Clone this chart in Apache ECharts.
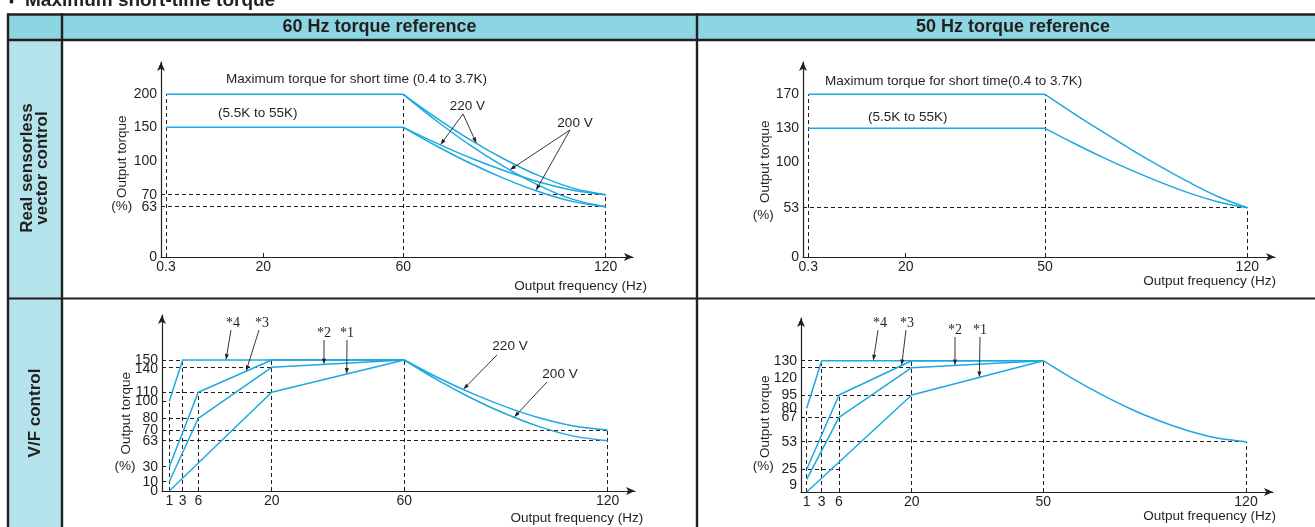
<!DOCTYPE html>
<html>
<head>
<meta charset="utf-8">
<title>Maximum short-time torque</title>
<script src="https://cdn.jsdelivr.net/npm/echarts@6.0.0/dist/echarts.min.js"></script>
<style>
html, body { margin: 0; padding: 0; background: #fff; }
#chart { width: 1315px; height: 527px; }
</style>
</head>
<body>
<div id="chart"></div>
<script>
// ---------- data: output frequency (Hz) and output torque (%) ----------

// Real sensorless vector control, 60 Hz torque reference
const tlXTicks = [0.3, 20, 60, 120];
const tlYTicks = [0, 63, 70, 100, 150, 200];
const tlShortMax = [[0.3, 200], [60, 200]];          // 0.4K to 3.7K
const tlShortRated = [[0.3, 150], [60, 150]];        // 5.5K to 55K
const tlFreq = [60, 70, 80, 90, 100, 110, 120];
const tlMax220 = [200, 163.6, 130.8, 102.2, 87.0, 76.0, 70];
const tlMax200 = [200, 159.2, 122.6, 94.5, 78.5, 67.4, 63];
const tlRated220 = [150, 125.9, 104.0, 91.1, 81.4, 74.1, 70];
const tlRated200 = [150, 121.6, 97.5, 84.2, 72.8, 66.1, 63];

// Real sensorless vector control, 50 Hz torque reference
const trXTicks = [0.3, 20, 50, 120];
const trYTicks = [0, 53, 100, 130, 170];
const trShortMax = [[0.3, 170], [50, 170]];
const trShortRated = [[0.3, 130], [50, 130]];
const trFreq = [50, 60, 70, 80, 90, 100, 110, 120];
const trMaxCurve = [170, 147.4, 126.7, 110.7, 95.0, 78.8, 64.2, 53];
const trRatedCurve = [130, 116.6, 103.9, 91.1, 78.9, 67.9, 58.8, 53];

// V/F control, 60 Hz torque reference (torque boost settings *1 to *4)
const blXTicks = [1, 3, 6, 20, 60, 120];
const blYTicks = [0, 10, 30, 63, 70, 80, 100, 110, 140, 150];
const blBoost4 = [[1, 100], [3, 150], [60, 150]];
const blBoost3 = [[1, 30], [6, 110], [20, 150], [60, 150]];
const blBoost2 = [[1, 10], [6, 80], [20, 140], [60, 150]];
const blBoost1 = [[1, 0], [20, 110], [60, 150]];
const blFreq = [60, 70, 80, 90, 100, 110, 120];
const bl220 = [150, 127.5, 108.7, 93.2, 80.3, 73.4, 70];
const bl200 = [150, 124.3, 102.9, 84.9, 72.7, 66.0, 63];

// V/F control, 50 Hz torque reference
const brXTicks = [1, 3, 6, 20, 50, 120];
const brYTicks = [0, 9, 25, 53, 67, 80, 95, 120, 130];
const brBoost4 = [[1, 80], [3, 130], [50, 130]];
const brBoost3 = [[1, 25], [6, 95], [20, 130], [50, 130]];
const brBoost2 = [[1, 9], [6, 67], [20, 120], [50, 130]];
const brBoost1 = [[1, 0], [20, 95], [50, 130]];
const brFreq = [50, 60, 70, 80, 90, 100, 110, 120];
const brCurve = [130, 110.2, 95.5, 79.4, 65.0, 59.3, 55.1, 53];

// dashed guides: vertical [freq, up to torque], horizontal [torque, out to freq]
const tlGuideV = [[0.3, 200], [60, 200], [120, 70]];
const tlGuideH = [[70, 120], [63, 120]];
const trGuideV = [[0.3, 170], [50, 170], [120, 53]];
const trGuideH = [[53, 120]];
const blGuideV = [[1, 100], [3, 150], [6, 110], [20, 150], [60, 150], [120, 70]];
const blGuideH = [[150, 3], [140, 20], [110, 20], [100, 1], [80, 6], [70, 120], [63, 120], [30, 1], [10, 1]];
const brGuideV = [[1, 80], [3, 130], [6, 95], [20, 130], [50, 130], [120, 53]];
const brGuideH = [[130, 3], [120, 20], [95, 20], [67, 6], [53, 120], [25, 6]];

// ---------- styling and layout ----------
const FONT = '"Liberation Sans", Arial, Helvetica, sans-serif';
const SERIF = '"Liberation Serif", "Times New Roman", serif';
const INK = '#231f20';
const BLUE = '#1ba9e1';
const HEAD = '#8cd5e2';
const SIDE = '#b4e3eb';
const TICK_FONT = 14;

// Each panel uses a schematic (non-uniform) scale: tick values sit at fixed
// positions along the axis and values in between are placed proportionally.
const LAYOUT = {
  tl: { x0: 161, y0: 257, top: 62, right: 633,
        xPx: [166, 263.3, 403.3, 605.7], yPx: [257, 206.7, 194.7, 160.7, 127.3, 94.3] },
  tr: { x0: 803, y0: 257, top: 62, right: 1275,
        xPx: [808.3, 905.7, 1045, 1247.3], yPx: [257, 207.7, 161.7, 128.3, 94.3] },
  bl: { x0: 162, y0: 491, top: 315, right: 635,
        xPx: [169.3, 182.7, 198.3, 271.7, 404.3, 607.7],
        yPx: [491, 481.7, 466.7, 440.7, 430, 418.3, 401, 392.3, 367.3, 360] },
  br: { x0: 801, y0: 492, top: 318, right: 1273,
        xPx: [806.7, 821.7, 839, 911.7, 1043.3, 1246],
        yPx: [492, 479.3, 469.3, 441.7, 417.3, 408.3, 395, 367.7, 360.7] }
};

// shiftY: extra downward offset (px) of a crowded tick label
const panels = [
  { lay: LAYOUT.tl, xt: tlXTicks, yt: tlYTicks, hideY: [], shiftY: {} },
  { lay: LAYOUT.tr, xt: trXTicks, yt: trYTicks, hideY: [], shiftY: {} },
  { lay: LAYOUT.bl, xt: blXTicks, yt: blYTicks, hideY: [], shiftY: { 140: 2 } },
  { lay: LAYOUT.br, xt: brXTicks, yt: brYTicks, hideY: [0], shiftY: { 120: 10, 9: 6 } }
];

function scalePx(v, ticks, px) {
  let i = 0;
  while (i < ticks.length - 2 && v > ticks[i + 1]) i++;
  const t = (v - ticks[i]) / (ticks[i + 1] - ticks[i]);
  return px[i] + t * (px[i + 1] - px[i]);
}
const ux = (p, f) => scalePx(f, p.xt, p.lay.xPx) - p.lay.x0;
const uy = (p, v) => p.lay.y0 - scalePx(v, p.yt, p.lay.yPx);
const toUnits = (p, pts) => pts.map(d => [ux(p, d[0]), uy(p, d[1])]);
const zip = (fs, vs) => fs.map((f, i) => [f, vs[i]]);

// List the end labels next to far-away ones, so the axis' first/last label
// overlap check never drops one of the closely stacked torque values.
function spreadOrder(vals) {
  if (vals.length < 4) return vals.slice();
  const n = vals.length;
  return [vals[0], vals[n - 1]].concat(vals.slice(2, n - 1), [vals[1]]);
}

// blue torque lines for each panel: [points, smooth]
const curves = [
  [[tlShortMax, false], [tlShortRated, false],
   [zip(tlFreq, tlMax220), true], [zip(tlFreq, tlMax200), true],
   [zip(tlFreq, tlRated220), true], [zip(tlFreq, tlRated200), true]],
  [[trShortMax, false], [trShortRated, false],
   [zip(trFreq, trMaxCurve), true], [zip(trFreq, trRatedCurve), true]],
  [[blBoost4, false], [blBoost3, false], [blBoost2, false], [blBoost1, false],
   [zip(blFreq, bl220), true], [zip(blFreq, bl200), true]],
  [[brBoost4, false], [brBoost3, false], [brBoost2, false], [brBoost1, false],
   [zip(brFreq, brCurve), true]]
];
const guides = [[tlGuideV, tlGuideH], [trGuideV, trGuideH], [blGuideV, blGuideH], [brGuideV, brGuideH]];

const chart = echarts.init(document.getElementById('chart'), null, { renderer: 'canvas' });

const grid = [], xAxis = [], yAxis = [], series = [];
panels.forEach((p, i) => {
  const L = p.lay;
  grid.push({ left: L.x0, top: L.top, width: L.right - L.x0, height: L.y0 - L.top, containLabel: false });
  const xVals = p.xt.map(f => ux(p, f));
  const yShown = p.yt.filter(v => p.hideY.indexOf(v) < 0);
  const yVals = yShown.map(v => uy(p, v));
  const labelOf = (vals, ticks, u) => {
    let best = 0;
    vals.forEach((w, k) => { if (Math.abs(w - u) < Math.abs(vals[best] - u)) best = k; });
    return ticks[best];
  };
  const base = { fontSize: TICK_FONT, fontFamily: FONT, color: INK };
  const rich = { n: base };
  Object.keys(p.shiftY).forEach(k => {
    rich['s' + k] = Object.assign({}, base, { padding: [p.shiftY[k] * 2, 0, 0, 0] });
  });
  xAxis.push({
    type: 'value', gridIndex: i, min: 0, max: L.right - L.x0,
    splitLine: { show: false },
    axisLine: { show: true, onZero: false, symbol: ['none', 'arrow'], symbolSize: [6, 9],
                lineStyle: { color: INK, width: 1.2 } },
    axisTick: { show: true, inside: true, length: 4, customValues: xVals, lineStyle: { color: INK, width: 1 } },
    axisLabel: { customValues: spreadOrder(xVals), color: INK, fontSize: TICK_FONT, fontFamily: FONT, margin: 3,
                 hideOverlap: false, showMinLabel: true, showMaxLabel: true,
                 formatter: u => String(labelOf(xVals, p.xt, u)) }
  });
  yAxis.push({
    type: 'value', gridIndex: i, min: 0, max: L.y0 - L.top,
    splitLine: { show: false },
    axisLine: { show: true, onZero: false, symbol: ['none', 'arrow'], symbolSize: [6, 9],
                lineStyle: { color: INK, width: 1.2 } },
    axisTick: { show: false },
    axisLabel: { customValues: spreadOrder(yVals), color: INK, fontSize: TICK_FONT, fontFamily: FONT, margin: 4,
                 rich: rich, hideOverlap: false, showMinLabel: true, showMaxLabel: true,
                 formatter: u => {
                   const v = labelOf(yVals, yShown, u);
                   return p.shiftY[v] ? '{s' + v + '|' + v + '}' : '{n|' + v + '}';
                 } }
  });

  // dashed reference lines
  const [gv, gh] = guides[i];
  const segs = [];
  gv.forEach(g => segs.push({ coords: [[ux(p, g[0]), 0], [ux(p, g[0]), uy(p, g[1])]] }));
  gh.forEach(g => segs.push({ coords: [[0, uy(p, g[0])], [ux(p, g[1]), uy(p, g[0])]] }));
  series.push({
    type: 'lines', coordinateSystem: 'cartesian2d', xAxisIndex: i, yAxisIndex: i,
    silent: true, z: 2, data: segs,
    lineStyle: { color: INK, width: 1, type: [4, 3], opacity: 1 }
  });

  curves[i].forEach(c => {
    series.push({
      type: 'line', xAxisIndex: i, yAxisIndex: i, data: toUnits(p, c[0]),
      smooth: c[1] ? 0.35 : false, symbol: 'none', showSymbol: false, silent: true, z: 3, clip: false,
      lineStyle: { color: BLUE, width: 1.5 }
    });
  });
});

chart.setOption({ animation: false, grid, xAxis, yAxis, series });

// ---------- table frame, captions and annotation arrows ----------
const g = [];
const text = (x, y, s, o = {}) => g.push({
  type: 'text', x, y, rotation: o.rot || 0, z: 20, silent: true,
  style: { text: s, fill: INK, fontSize: o.size || 13, fontFamily: o.family || FONT,
           fontWeight: o.weight || 'normal', align: o.align || 'left', verticalAlign: o.va || 'middle',
           lineHeight: o.lh }
});
const rect = (x, y, w, h, fill) => g.push({ type: 'rect', z: 0, silent: true, shape: { x, y, width: w, height: h }, style: { fill } });
const rule = (x1, y1, x2, y2, w) => g.push({ type: 'line', z: 10, silent: true,
  shape: { x1, y1, x2, y2 }, style: { stroke: INK, lineWidth: w } });

rect(8, 15, 1307, 25, HEAD);
rect(8, 40, 54, 487, SIDE);
rule(7, 14.5, 1315, 14.5, 2.6);
rule(7, 40, 1315, 40, 2.4);
rule(8, 13.5, 8, 527, 2.4);
rule(62, 13.5, 62, 527, 2.4);
rule(697, 13.5, 697, 527, 2.4);
rule(8, 298.5, 1315, 298.5, 2);

text(9, 9, '\u25AA', { size: 14, weight: 'bold', va: 'bottom' });
text(25, 10, 'Maximum short-time torque', { size: 19, weight: 'bold', va: 'bottom' });
text(379.5, 27.5, '60 Hz torque reference', { size: 18, weight: 'bold', align: 'center' });
text(1013, 27.5, '50 Hz torque reference', { size: 18, weight: 'bold', align: 'center' });
text(35, 168, 'Real sensorless\nvector control', { size: 17, weight: 'bold', align: 'center', rot: Math.PI / 2, lh: 15 });
text(35, 413, 'V/F control', { size: 17, weight: 'bold', align: 'center', rot: Math.PI / 2 });

// axis captions
[[122.7, 156.7, 121.7, 206.7, 647, 286.5], [765, 161.7, 763.3, 215, 1276, 281],
 [126.7, 413.3, 125, 466.7, 643.3, 518.3], [765, 416.7, 763.3, 466.7, 1276, 516.7]].forEach(c => {
  text(c[0], c[1], 'Output torque', { rot: Math.PI / 2, align: 'center', size: 13.5 });
  text(c[2], c[3], '(%)', { align: 'center', size: 13.5 });
  text(c[4], c[5], 'Output frequency (Hz)', { align: 'right', size: 13.5 });
});

text(226, 79.5, 'Maximum torque for short time (0.4 to 3.7K)', { size: 13.5 });
text(218, 113, '(5.5K to 55K)', { size: 13.5 });
text(825, 81.5, 'Maximum torque for short time(0.4 to 3.7K)', { size: 13.5 });
text(868, 117, '(5.5K to 55K)', { size: 13.5 });

// point on a drawn line: fraction s along segment k of a panel's series
function onLine(pi, pts, k, s) {
  const p = panels[pi];
  const a = chart.convertToPixel({ gridIndex: pi }, [ux(p, pts[k][0]), uy(p, pts[k][1])]);
  const b = chart.convertToPixel({ gridIndex: pi }, [ux(p, pts[k + 1][0]), uy(p, pts[k + 1][1])]);
  return [a[0] + s * (b[0] - a[0]), a[1] + s * (b[1] - a[1])];
}
function arrow(from, to) {
  const dx = to[0] - from[0], dy = to[1] - from[1];
  const len = Math.hypot(dx, dy), ex = dx / len, ey = dy / len;
  const h = 6, w = 2;
  const bx = to[0] - ex * h, by = to[1] - ey * h;
  rule(from[0], from[1], bx, by, 0.9);
  g.push({ type: 'polygon', z: 12, silent: true,
    shape: { points: [to, [bx - ey * w, by + ex * w], [bx + ey * w, by - ex * w]] }, style: { fill: INK } });
}

// supply-voltage callouts
text(467.3, 106.7, '220 V', { size: 13.5, align: 'center' });
text(575, 123.3, '200 V', { size: 13.5, align: 'center' });
arrow([463, 114], onLine(0, zip(tlFreq, tlMax220), 2, 0.17));
arrow([463, 114], onLine(0, zip(tlFreq, tlRated220), 1, 0.1));
arrow([570, 130], onLine(0, zip(tlFreq, tlMax200), 3, 0.16));
arrow([570, 130], onLine(0, zip(tlFreq, tlRated200), 3, 0.93));

text(510, 346, '220 V', { size: 13.5, align: 'center' });
text(560, 374, '200 V', { size: 13.5, align: 'center' });
arrow([497, 355], onLine(2, zip(blFreq, bl220), 1, 0.74));
arrow([547, 382], onLine(2, zip(blFreq, bl200), 3, 0.24));

// torque boost callouts
const boostNotes = [
  [2, '*4', [233, 323], [231, 330], blBoost4, 1, 0.195],
  [2, '*3', [262, 323], [259, 330], blBoost3, 1, 0.65],
  [2, '*2', [324, 333], [324, 340], blBoost2, 2, 0.394],
  [2, '*1', [347, 333], [347, 340], blBoost1, 1, 0.566],
  [3, '*4', [880, 323], [878, 330], brBoost4, 1, 0.233],
  [3, '*3', [907, 323], [906, 330], brBoost3, 1, 0.862],
  [3, '*2', [955, 330], [955, 337], brBoost2, 2, 0.329],
  [3, '*1', [980, 330], [980, 337], brBoost1, 1, 0.514]
];
boostNotes.forEach(n => {
  text(n[2][0], n[2][1], n[1], { size: 14, family: SERIF, align: 'center' });
  arrow(n[3], onLine(n[0], n[4], n[5], n[6]));
});

chart.setOption({ graphic: { elements: g } });
</script>
</body>
</html>
